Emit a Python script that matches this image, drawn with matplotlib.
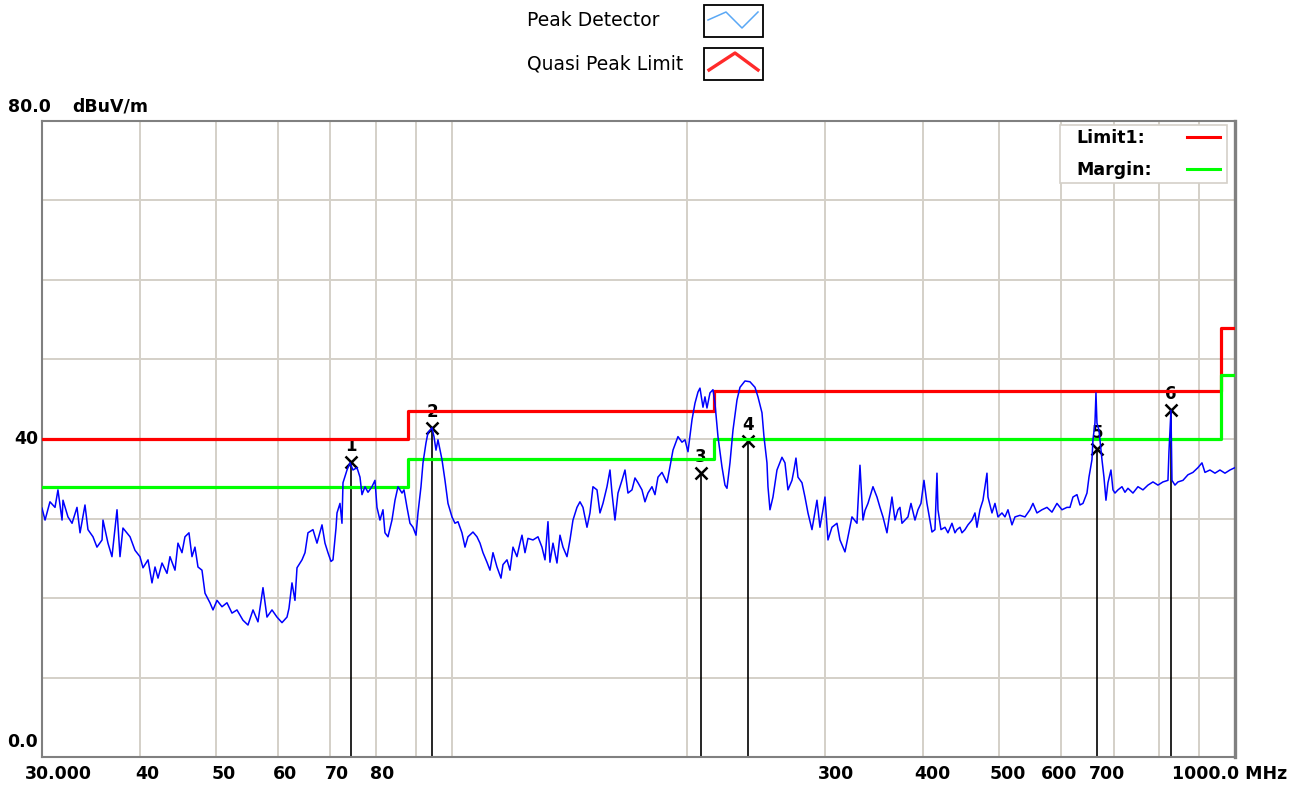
import matplotlib
matplotlib.use("Agg")
import matplotlib.pyplot as plt
import matplotlib.transforms as mtransforms
from matplotlib.patches import Rectangle
from matplotlib.lines import Line2D

# peak detector sweep, MHz / dBuV/m
trace_mhz = [
    30.0, 30.27, 30.71, 31.17, 31.44, 31.82, 31.91, 32.38, 32.77, 33.25,
    33.55, 34.04, 34.34, 34.85, 35.26, 35.79, 35.89, 36.42, 36.85, 37.40,
    37.73, 38.06, 38.86, 39.43, 40.01, 40.37, 40.97, 41.45, 41.82, 42.19,
    42.69, 43.32, 43.70, 44.35, 44.74, 45.27, 45.67, 46.21, 46.62, 47.03,
    47.45, 48.01, 48.44, 49.15, 49.59, 50.18, 50.92, 51.67, 52.44, 53.21,
    54.16, 54.96, 55.78, 56.60, 57.44, 58.12, 58.98, 59.85, 60.74, 61.64,
    62.00, 62.55, 63.10, 63.48, 64.42, 64.99, 65.56, 66.53, 67.32, 68.32,
    68.92, 69.53, 70.15, 70.56, 71.19, 71.40, 72.03, 72.45, 72.67, 73.53,
    74.18, 74.83, 75.72, 76.39, 76.84, 77.52, 78.21, 79.13, 79.83, 80.30,
    81.01, 81.73, 82.21, 82.94, 83.92, 84.67, 85.42, 86.43, 86.94, 87.71,
    88.48, 89.27, 90.06, 90.59, 91.39, 91.93, 92.74, 93.29, 94.39, 94.95,
    95.51, 96.07, 97.21, 98.07, 98.94, 100.11, 100.99, 101.89, 103.09, 104.01,
    104.93, 106.48, 107.74, 108.70, 109.66, 110.95, 111.94, 112.93, 114.26, 115.62,
    116.30, 117.67, 118.71, 119.77, 121.18, 122.26, 122.98, 124.07, 125.16, 127.02,
    128.90, 130.42, 131.58, 132.74, 133.52, 134.71, 136.30, 137.51, 138.73, 140.37,
    141.61, 142.86, 144.55, 145.83, 147.13, 148.87, 150.18, 151.51, 153.31, 154.66,
    156.03, 157.88, 159.28, 160.22, 161.63, 163.07, 164.99, 166.46, 167.93, 169.92,
    171.42, 172.94, 174.98, 176.53, 178.10, 180.20, 181.80, 183.41, 185.58, 188.33,
    189.99, 191.68, 194.51, 196.81, 198.56, 200.32, 202.69, 204.48, 206.29, 207.51,
    209.35, 210.58, 211.82, 213.70, 215.59, 216.86, 218.78, 221.37, 223.33, 224.65,
    226.64, 228.64, 231.35, 233.40, 236.85, 240.36, 243.92, 246.08, 248.99, 250.45,
    252.67, 253.42, 254.91, 257.17, 260.21, 264.06, 266.40, 268.76, 271.94, 273.54,
    275.15, 276.78, 280.05, 282.53, 285.03, 288.40, 292.67, 295.26, 297.88, 299.64,
    302.29, 305.86, 310.39, 313.14, 317.78, 320.59, 324.38, 329.19, 332.10, 335.04,
    337.02, 340.00, 345.04, 349.12, 352.21, 355.33, 359.53, 364.85, 368.08, 371.34,
    373.53, 375.74, 382.42, 385.81, 390.37, 393.83, 397.32, 400.83, 404.38, 410.37,
    414.01, 416.45, 417.67, 421.37, 426.36, 430.13, 435.22, 439.07, 441.66, 445.57,
    448.20, 452.17, 456.17, 461.57, 465.66, 468.40, 472.55, 476.74, 482.38, 483.80,
    489.52, 493.85, 498.23, 504.12, 508.58, 513.09, 519.16, 523.75, 531.51, 539.38,
    547.36, 552.21, 558.74, 567.01, 575.41, 583.92, 592.57, 601.34, 610.24, 615.65,
    621.10, 628.45, 634.01, 639.63, 647.19, 651.01, 656.77, 658.70, 662.59, 664.54,
    666.49, 670.42, 676.36, 680.35, 684.36, 688.40, 694.49, 698.59, 702.71, 708.93,
    717.31, 723.67, 730.08, 740.88, 751.85, 762.98, 774.28, 785.74, 797.37, 809.17,
    821.15, 823.57, 828.43, 830.87, 838.22, 845.65, 858.17, 870.87, 883.76, 896.85,
    907.45, 915.49, 929.04, 942.80, 956.75, 970.92, 985.29, 1000.0,
]
trace_dbuv = [
    31.3, 29.8, 32.1, 31.4, 33.6, 29.8, 32.3, 30.2, 29.4, 31.4,
    28.2, 31.7, 28.6, 27.7, 26.4, 27.3, 29.8, 26.9, 25.2, 31.1,
    25.2, 28.8, 27.7, 26.0, 25.2, 23.8, 24.8, 21.9, 23.9, 22.5,
    24.4, 23.1, 25.2, 23.5, 26.9, 25.7, 27.7, 28.2, 25.2, 26.4,
    23.9, 23.5, 20.6, 19.4, 18.5, 19.7, 18.9, 19.4, 18.1, 18.5,
    17.2, 16.6, 18.5, 17.0, 21.3, 17.6, 18.5, 17.6, 16.9, 17.6,
    18.7, 21.9, 19.7, 23.8, 24.8, 25.7, 28.2, 28.6, 26.9, 29.2,
    26.9, 25.7, 24.6, 24.8, 28.8, 30.7, 31.9, 29.4, 34.5, 36.1,
    37.0, 36.1, 36.4, 35.2, 33.0, 34.0, 33.3, 34.0, 34.8, 31.4,
    29.8, 31.1, 28.2, 27.7, 29.8, 32.3, 34.0, 33.2, 33.6, 31.4,
    29.4, 28.9, 27.9, 30.7, 34.0, 37.0, 39.5, 40.8, 41.4, 40.3,
    38.6, 39.9, 37.4, 34.8, 31.9, 30.2, 29.4, 29.6, 28.2, 26.4,
    27.7, 28.3, 27.7, 26.9, 25.7, 24.5, 23.5, 25.7, 23.9, 22.5,
    24.2, 24.8, 23.5, 26.4, 25.2, 26.9, 27.9, 25.7, 27.5, 27.3,
    27.7, 26.4, 24.8, 29.6, 24.5, 26.9, 24.4, 27.9, 26.4, 25.2,
    27.3, 29.8, 31.4, 32.1, 31.4, 28.9, 30.7, 34.0, 33.6, 30.7,
    31.9, 34.0, 36.1, 33.2, 29.8, 33.2, 34.8, 36.1, 33.2, 33.6,
    35.1, 34.5, 33.6, 32.1, 33.2, 34.0, 33.0, 35.2, 35.8, 34.5,
    36.5, 38.6, 40.3, 39.6, 39.9, 38.4, 42.4, 44.5, 45.9, 46.4,
    44.0, 45.3, 43.9, 45.8, 46.2, 44.5, 40.3, 36.5, 34.2, 33.8,
    37.0, 41.1, 44.9, 46.5, 47.3, 47.2, 46.5, 45.3, 43.3, 40.3,
    37.0, 34.0, 31.1, 32.7, 36.1, 37.7, 37.0, 33.6, 34.8, 36.1,
    37.6, 35.2, 34.5, 32.7, 30.7, 28.6, 32.3, 28.9, 31.1, 32.7,
    27.3, 28.9, 29.4, 27.3, 25.8, 27.7, 30.2, 29.4, 36.7, 29.8,
    31.0, 31.9, 34.0, 32.7, 31.4, 30.2, 28.2, 32.7, 29.8, 31.1,
    31.4, 29.4, 30.2, 31.9, 29.8, 31.1, 31.9, 34.8, 31.9, 28.3,
    28.6, 35.7, 31.1, 28.6, 28.9, 28.2, 29.4, 28.2, 28.6, 28.9,
    28.2, 28.6, 29.2, 29.8, 30.7, 28.9, 31.1, 32.3, 35.7, 32.7,
    30.7, 31.9, 30.2, 30.7, 30.2, 31.1, 29.2, 30.2, 30.4, 30.2,
    31.1, 31.9, 30.7, 31.1, 31.4, 30.8, 31.9, 31.1, 31.4, 31.4,
    32.7, 33.0, 31.7, 31.9, 33.2, 35.2, 37.4, 39.9, 42.0, 45.8,
    42.0, 41.1, 37.4, 35.2, 32.3, 34.5, 36.1, 33.6, 33.2, 33.6,
    34.0, 33.3, 33.8, 33.2, 34.0, 33.6, 34.2, 34.6, 34.2, 34.6,
    34.8, 38.4, 43.6, 34.8, 34.2, 34.6, 34.8, 35.5, 35.8, 36.4,
    37.0, 35.8, 36.1, 35.7, 36.1, 35.7, 36.1, 36.4,
]

# quasi-peak limit and margin line (step edges in MHz)
limit_edges_mhz = [30, 88, 216, 960, 1000]
limit_dbuv = [40.0, 43.5, 46.0, 54.0]
margin_dbuv = [34.0, 37.5, 40.0, 48.0]

marker_ids = ["1", "2", "3", "4", "5", "6"]
marker_mhz = [74.4, 94.4, 208.0, 239.0, 667.0, 829.0]
marker_dbuv = [37.1, 41.4, 35.7, 39.7, 38.7, 43.6]

xgrid_mhz = [30, 40, 50, 60, 70, 80, 90, 100, 200, 300, 400, 500, 600, 700, 800, 900, 1000]
ygrid_dbuv = [0, 10, 20, 30, 40, 50, 60, 70, 80]

xtick_mhz = [30, 40, 50, 60, 70, 80, 300, 400, 500, 600, 700, 1000]
xtick_text = ["30.000", "40", "50", "60", "70", "80", "300", "400", "500", "600", "700", "1000.0 MHz"]
xtick_shift = [16, 7, 8, 7, 7, 6, 11, 9, 9, -2, -7, -5]

GRID = "#d4d0c8"
FRAME = "#808080"
W, H = 1308, 787

fig = plt.figure(figsize=(W / 100, H / 100), dpi=100)
fig.patch.set_facecolor("white")
ax = fig.add_axes([42 / W, 1 - 757 / H, 1193 / W, 636 / H])

ax.set_xscale("log")
ax.set_xlim(30, 1000)
ax.set_ylim(0, 80)
ax.xaxis.set_minor_locator(matplotlib.ticker.NullLocator())
ax.set_xticks(xgrid_mhz)
ax.set_yticks(ygrid_dbuv)
ax.tick_params(length=0, labelbottom=False, labelleft=False)
ax.grid(True, color=GRID, lw=1.4)
ax.set_axisbelow(True)
for side, sp in ax.spines.items():
    sp.set_color(FRAME)
    sp.set_linewidth(2.4 if side == "right" else 1.5)


def shifted(trans, dx=0, dy=0):
    return mtransforms.offset_copy(trans, fig=fig, x=dx, y=dy, units="dots")


# markers: drop lines, crosses and their numbers
ax.vlines(marker_mhz, 0, marker_dbuv, color="black", lw=1.2, zorder=2)
ax.plot(marker_mhz, marker_dbuv, "x", color="black", ms=9, mew=1.8, zorder=2.2)
for mid, f, v in zip(marker_ids, marker_mhz, marker_dbuv):
    ax.annotate(mid, (f, v), xytext=(0, 16), textcoords="offset pixels",
                ha="center", va="center", fontsize=12, fontweight="bold",
                color="black", zorder=2.4)

ax.step(limit_edges_mhz, limit_dbuv + limit_dbuv[-1:], where="post",
        color="#ff0000", lw=2.3, zorder=3)
ax.step(limit_edges_mhz, margin_dbuv + margin_dbuv[-1:], where="post",
        color="#00ff00", lw=2.3, zorder=3)
ax.plot(trace_mhz, trace_dbuv, color="#0000ff", lw=1.1, zorder=4)

# axis labels
tick_font = dict(fontsize=12.5, fontweight="bold", color="black")
xt = ax.get_xaxis_transform()
for f, txt, dx in zip(xtick_mhz, xtick_text, xtick_shift):
    ax.text(f, 0, txt, transform=shifted(xt, dx, -17), ha="center", va="center",
            clip_on=False, **tick_font)

yt = ax.get_yaxis_transform()
ax.text(0, 80, "80.0", transform=shifted(yt, 8 - 42, 14), ha="left", va="center",
        clip_on=False, **tick_font)
ax.text(0, 80, "dBuV/m", transform=shifted(yt, 72 - 42, 14), ha="left", va="center",
        clip_on=False, **tick_font)
ax.text(0, 40, "40", transform=shifted(yt, 38 - 42, 0), ha="right", va="center",
        clip_on=False, **tick_font)
ax.text(0, 0, "0.0", transform=shifted(yt, 38 - 42, 15), ha="right", va="center",
        clip_on=False, **tick_font)


def fx(px):
    return px / W


def fy(py):
    return 1 - py / H


# legend box inside the plot
fig.add_artist(Rectangle((fx(1060), fy(183)), fx(167), 58 / H, transform=fig.transFigure,
                         facecolor="white", edgecolor=GRID, lw=1.2, zorder=5))
for label, colour, py in [("Limit1:", "#ff0000", 138), ("Margin:", "#00ff00", 170)]:
    fig.text(fx(1076), fy(py), label, ha="left", va="center", zorder=6, **tick_font)
    fig.add_artist(Line2D([fx(1187), fx(1220)], [fy(py - 1), fy(py - 1)],
                          transform=fig.transFigure, color=colour, lw=2.2, zorder=6))

# trace legend above the plot
top_font = dict(fontsize=13.5, color="black")
fig.text(fx(527), fy(21), "Peak Detector", ha="left", va="center", **top_font)
fig.text(fx(527), fy(64), "Quasi Peak Limit", ha="left", va="center", **top_font)
for top in (5, 48):
    fig.add_artist(Rectangle((fx(704), fy(top + 32)), fx(59), 32 / H,
                             transform=fig.transFigure, facecolor="white",
                             edgecolor="black", lw=1.3))
fig.add_artist(Line2D([fx(708), fx(726), fx(742), fx(758)],
                      [fy(20), fy(12), fy(28), fy(12)],
                      transform=fig.transFigure, color="#5aa8f5", lw=1.1))
fig.add_artist(Line2D([fx(709), fx(735), fx(758)],
                      [fy(70), fy(53), fy(70)],
                      transform=fig.transFigure, color="#ff2a2a", lw=2.4))

fig.savefig("out.png", dpi=100)
